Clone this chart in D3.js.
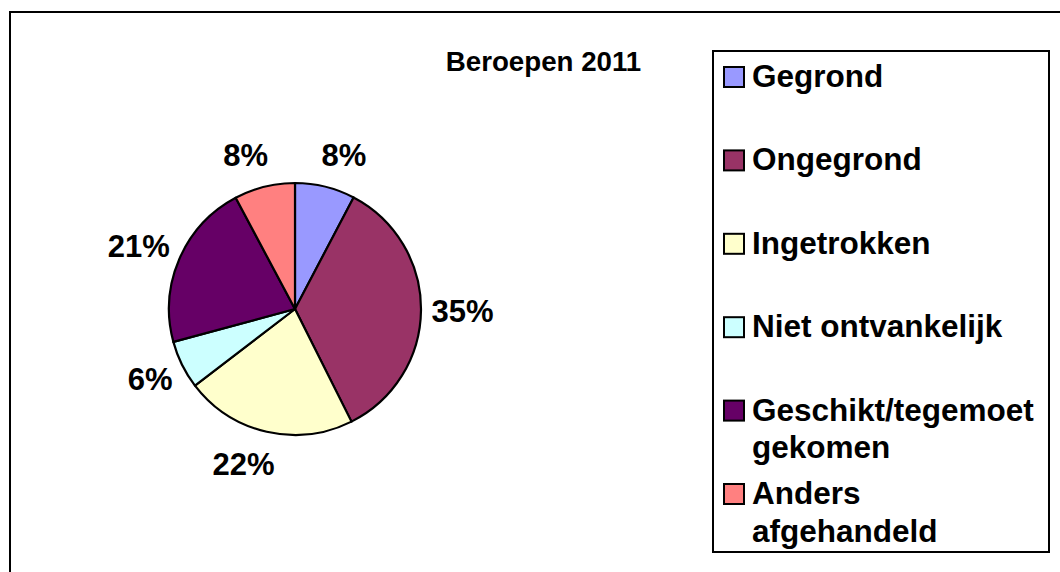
<!DOCTYPE html>
<html>
<head>
<meta charset="utf-8">
<script src="https://cdn.jsdelivr.net/npm/d3@7"></script>
<style>
  html, body { margin: 0; padding: 0; background: #fff; }
  svg { display: block; font-family: "Liberation Sans", Arial, sans-serif; font-weight: bold; }
</style>
</head>
<body>
<svg id="chart" width="1060" height="572"></svg>
<script>
// ---- data ----
const title = "Beroepen 2011";
const categories = ["Gegrond", "Ongegrond", "Ingetrokken", "Niet ontvankelijk", "Geschikt/tegemoet gekomen", "Anders afgehandeld"];
const values = [7.7, 34.9, 22.0, 6.2, 21.4, 7.8];
const colors = ["#9999FF", "#993366", "#FFFFCC", "#CCFFFF", "#660066", "#FF8080"];

// ---- layout ----
const W = 1060, H = 572;
const cx = 295, cy = 309, R = 126;
const labelGap = 10.5, labelBoxH = 44, labelFont = 31;
const legend = { x: 713, y: 51, w: 336, h: 501, firstBaseline: 87, step: 83.4, swatch: 20, textX: 752, font: 31.5, lineGap: 37.5, maxW: 292 };

const svg = d3.select("#chart");

// outer frame
svg.append("rect")
  .attr("x", 10).attr("y", 12).attr("width", 1100).attr("height", 700)
  .attr("fill", "#fff").attr("stroke", "#000").attr("stroke-width", 2);

// title
svg.append("text")
  .attr("x", 543.5).attr("y", 71)
  .attr("text-anchor", "middle")
  .attr("font-size", 27.7)
  .attr("fill", "#000")
  .text(title);

// pie
const total = d3.sum(values);
const pie = d3.pie().sort(null).value(d => d);
const arcs = pie(values);
const arc = d3.arc().innerRadius(0).outerRadius(R);

const g = svg.append("g").attr("transform", `translate(${cx},${cy})`);
g.selectAll("path.slice")
  .data(arcs)
  .enter().append("path")
  .attr("class", "slice")
  .attr("d", arc)
  .attr("fill", (d, i) => colors[i])
  .attr("stroke", "#000")
  .attr("stroke-width", 2.2)
  .attr("stroke-linejoin", "round");

// labels (outside end)
const fmt = v => Math.round(v / total * 100) + "%";
const labels = g.selectAll("text.lbl")
  .data(arcs)
  .enter().append("text")
  .attr("class", "lbl")
  .attr("text-anchor", "middle")
  .attr("font-size", labelFont)
  .attr("fill", "#000")
  .text(d => fmt(d.value));

labels.each(function(d) {
  const w = this.getComputedTextLength();
  const mid = (d.startAngle + d.endAngle) / 2;
  const ux = Math.sin(mid), uy = -Math.cos(mid);
  const fx = Math.max(-1, Math.min(1, 3 * ux));
  const px = (R + labelGap) * ux + (w / 2) * fx;
  const py = (R + labelGap) * uy + (labelBoxH / 2) * uy;
  d3.select(this).attr("x", px).attr("y", py + labelFont * 0.716 / 2);
});

// legend
svg.append("rect")
  .attr("x", legend.x).attr("y", legend.y)
  .attr("width", legend.w).attr("height", legend.h)
  .attr("fill", "#fff").attr("stroke", "#000").attr("stroke-width", 2);

const items = svg.selectAll("g.item")
  .data(categories)
  .enter().append("g")
  .attr("class", "item");

items.each(function(name, i) {
  const base = legend.firstBaseline + i * legend.step;
  const it = d3.select(this);
  it.append("rect")
    .attr("x", legend.x + 11).attr("y", base - legend.swatch)
    .attr("width", legend.swatch).attr("height", legend.swatch)
    .attr("fill", colors[i]).attr("stroke", "#000").attr("stroke-width", 2);
  const t = it.append("text")
    .attr("x", legend.textX).attr("y", base)
    .attr("font-size", legend.font).attr("fill", "#000");
  // word wrap
  const words = name.split(" ");
  let line = [];
  let lineNo = 0;
  let tspan = t.append("tspan").attr("x", legend.textX).attr("y", base);
  words.forEach(wd => {
    line.push(wd);
    tspan.text(line.join(" "));
    if (tspan.node().getComputedTextLength() > legend.maxW && line.length > 1) {
      line.pop();
      tspan.text(line.join(" "));
      line = [wd];
      lineNo++;
      tspan = t.append("tspan").attr("x", legend.textX).attr("y", base + lineNo * legend.lineGap).text(wd);
    }
  });
});
</script>
</body>
</html>
